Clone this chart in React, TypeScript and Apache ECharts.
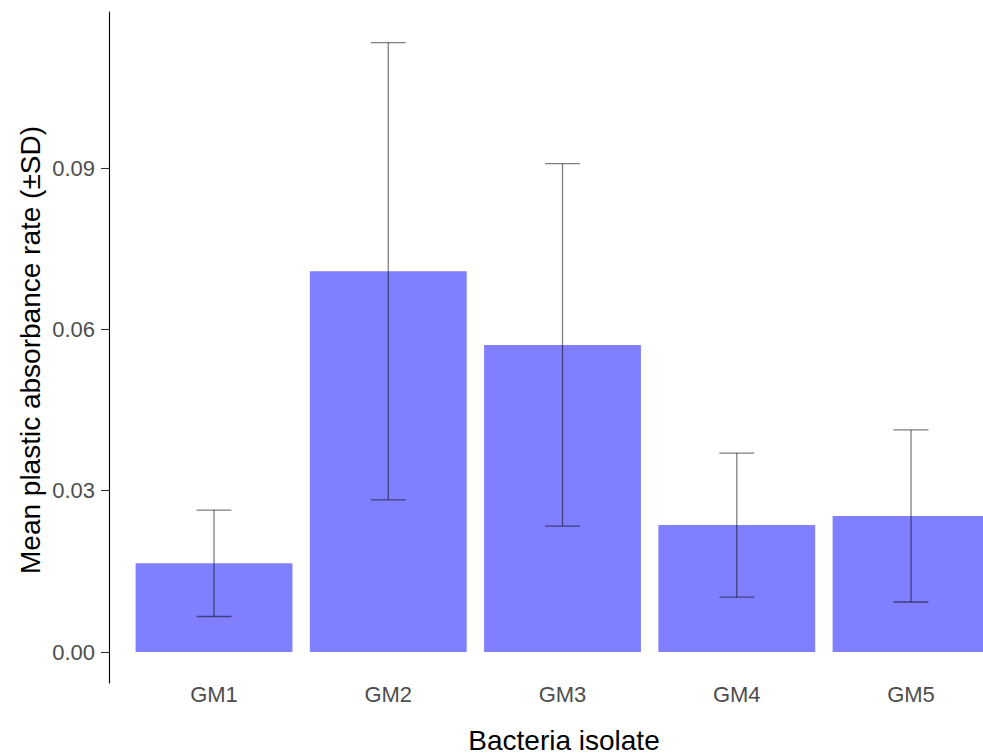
import React, { useEffect, useRef } from "react";
import * as echarts from "echarts";

const categories = ["GM1", "GM2", "GM3", "GM4", "GM5"];
const means = [0.0165, 0.0708, 0.0571, 0.0236, 0.0253];
const sds = [0.0099, 0.0425, 0.0337, 0.0134, 0.016];
const yTicks = [0, 0.03, 0.06, 0.09];
const xTitle = "Bacteria isolate";
const yTitle = "Mean plastic absorbance rate (±SD)";

const FONT = "'Liberation Sans', Arial, sans-serif";

export default function App() {
  const ref = useRef<HTMLDivElement>(null);
  useEffect(() => {
    if (!ref.current) return;
    const chart = echarts.init(ref.current, undefined, { renderer: "svg" });
    const errData = means.map((m, i) => [i, m - sds[i], m + sds[i]]);
    chart.setOption({
      animation: false,
      backgroundColor: "#ffffff",
      grid: { left: 126.9, width: 871.25, top: 12, bottom: 73, containLabel: false },
      xAxis: {
        type: "category",
        data: categories,
        boundaryGap: true,
        axisLine: { show: false },
        axisTick: { show: false },
        axisLabel: {
          color: "#4d4d4d",
          fontSize: 22,
          fontFamily: FONT,
          margin: 0,
        },
      },
      yAxis: {
        type: "value",
        min: -0.005764,
        max: 0.11901,
        offset: 17.9,
        splitLine: { show: false },
        axisLine: { show: true, lineStyle: { color: "#000000", width: 1.1 } },
        axisTick: {
          show: true,
          length: 8,
          customValues: yTicks,
          lineStyle: { color: "#333333", width: 1.1 },
        },
        axisLabel: {
          customValues: yTicks,
          color: "#4d4d4d",
          fontSize: 22,
          fontFamily: FONT,
          margin: 14,
          formatter: (v: number) => v.toFixed(2),
        },
      },
      series: [
        {
          type: "bar",
          data: means,
          barWidth: "90%",
          itemStyle: { color: "#7f7fff" },
        },
        {
          type: "custom",
          data: errData,
          z: 10,
          renderItem: (params: any, api: any) => {
            const x = api.value(0);
            const lo = api.coord([x, api.value(1)]);
            const hi = api.coord([x, api.value(2)]);
            const half = api.size([1, 0])[0] * 0.1;
            const style = { stroke: "rgba(0,0,0,0.5)", lineWidth: 1.3 };
            return {
              type: "group",
              children: [
                { type: "line", shape: { x1: hi[0], y1: hi[1], x2: lo[0], y2: lo[1] }, style },
                { type: "line", shape: { x1: hi[0] - half, y1: hi[1], x2: hi[0] + half, y2: hi[1] }, style },
                { type: "line", shape: { x1: lo[0] - half, y1: lo[1], x2: lo[0] + half, y2: lo[1] }, style },
              ],
            };
          },
        },
      ],
      graphic: [
        {
          type: "text",
          x: 564,
          y: 740,
          style: {
            text: xTitle,
            fill: "#000000",
            fontSize: 28,
            fontFamily: FONT,
            align: "center",
            verticalAlign: "middle",
          },
        },
        {
          type: "text",
          x: 30,
          y: 350,
          rotation: Math.PI / 2,
          style: {
            text: yTitle,
            fill: "#000000",
            fontSize: 28,
            fontFamily: FONT,
            align: "center",
            verticalAlign: "middle",
          },
        },
      ],
    });
    return () => chart.dispose();
  }, []);
  return (
    <div
      style={{
        position: "fixed",
        left: 0,
        top: 0,
        width: 983,
        height: 756,
        overflow: "hidden",
        background: "#ffffff",
      }}
    >
      <div ref={ref} style={{ width: 1020, height: 756 }} />
    </div>
  );
}
